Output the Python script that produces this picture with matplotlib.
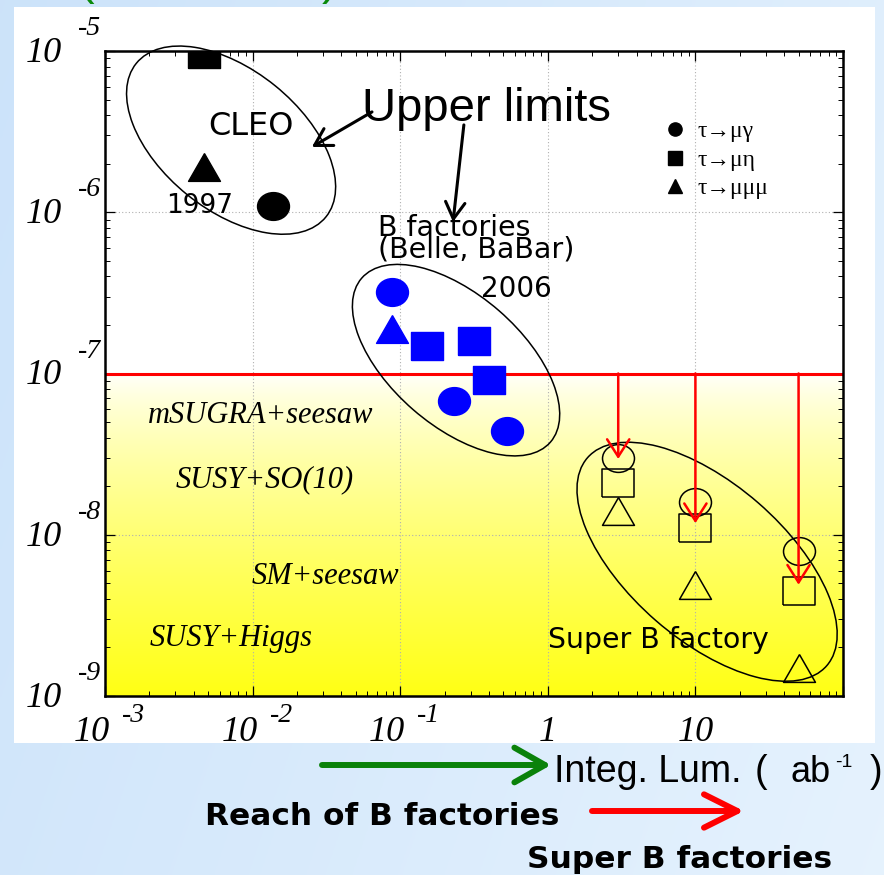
import numpy as np
import matplotlib
matplotlib.use('Agg')
import matplotlib.pyplot as plt
from matplotlib.patches import Ellipse, Rectangle
from matplotlib.path import Path
from matplotlib.transforms import Affine2D, ScaledTranslation
from matplotlib.lines import Line2D

# upper limits on LFV tau decays vs integrated luminosity (ab^-1)
cleo_mugamma_x = [0.0138]
cleo_mugamma_y = [1.1e-6]
cleo_mueta_x = [0.0047]
cleo_mueta_y = [9.6e-6]
cleo_mumumu_x = [0.0047]
cleo_mumumu_y = [1.9e-6]

bfac_mugamma_x = [0.088, 0.231, 0.533]
bfac_mugamma_y = [3.2e-7, 6.8e-8, 4.4e-8]
bfac_mueta_x = [0.153, 0.314, 0.40]
bfac_mueta_y = [1.49e-7, 1.59e-7, 9.1e-8]
bfac_mumumu_x = [0.088]
bfac_mumumu_y = [1.9e-7]

superb_x = [3, 10, 50]
superb_mugamma_y = [3.0e-8, 1.6e-8, 7.9e-9]
superb_mueta_y = [2.1e-8, 1.1e-8, 4.5e-9]
superb_mumumu_y = [1.4e-8, 4.9e-9, 1.5e-9]

reach_level = 1e-7
reach_tips = [2.95e-8, 1.18e-8, 4.9e-9]

legend_labels = ['τ→μγ', 'τ→μη', 'τ→μμμ']
model_labels = ['mSUGRA+seesaw', 'SUSY+SO(10)', 'SM+seesaw', 'SUSY+Higgs']
model_x = [0.00195, 0.00303, 0.0099, 0.00202]
model_y = [4.94e-8, 1.98e-8, 4.97e-9, 2.05e-9]

xtick_vals = [1e-3, 1e-2, 1e-1, 1, 10]
xtick_base = ['10', '10', '10', '1', '10']
xtick_exp = ['-3', '-2', '-1', '', '']
ytick_vals = [1e-9, 1e-8, 1e-7, 1e-6, 1e-5]
ytick_exp = ['-9', '-8', '-7', '-6', '-5']

W, H = 884, 875
fig = plt.figure(figsize=(W / 100, H / 100), dpi=100)

def fx(px):
    return px / W

def fy(py):
    return 1 - py / H

serif = ['Liberation Serif', 'DejaVu Serif']

# slide background + white panel
bg = fig.add_axes([0, 0, 1, 1], zorder=-10)
bg.set_axis_off()
gx, gy = np.meshgrid(np.linspace(0, 1, 300), np.linspace(0, 1, 300))
t = 0.75 * gx + 0.25 * gy
c0 = np.array([0.80, 0.89, 0.98])
c1 = np.array([0.90, 0.95, 0.995])
bg.imshow(c0 + (c1 - c0) * t[..., None], extent=[0, 1, 0, 1], aspect='auto', origin='upper')
bg.set_xlim(0, 1)
bg.set_ylim(0, 1)
bg.add_patch(Rectangle((fx(14), fy(743)), fx(875) - fx(14), fy(7) - fy(743),
                       facecolor='white', edgecolor='none'))

ax = fig.add_axes([fx(105), fy(696), fx(843) - fx(105), fy(51) - fy(696)])
ax.set_xscale('log')
ax.set_yscale('log')
ax.set_xlim(1e-3, 1e2)
ax.set_ylim(1e-9, 1e-5)
ax.set_autoscale_on(False)

# yellow band below the B-factory reach
frac = (np.log10(reach_level) + 9) / 4
tt = np.linspace(0, 1, 256)[:, None]
yellow = np.dstack([np.ones_like(tt), np.ones_like(tt), 1 - 0.92 * tt ** 0.75])
ax.imshow(yellow, extent=[0, 1, 0, frac], transform=ax.transAxes, aspect='auto',
          origin='upper', zorder=0, interpolation='bilinear')

ax.grid(True, which='major', ls=(0, (1, 2)), color='#b0b0b0', lw=0.8)
ax.tick_params(which='both', direction='in', top=True, right=True,
               labelbottom=False, labelleft=False)
ax.tick_params(which='major', length=7, width=0.9)
ax.tick_params(which='minor', length=3.5, width=0.7)
for s in ax.spines.values():
    s.set_linewidth(1.8)

# tick labels drawn as 10 with a raised exponent
for v, b, e in zip(xtick_vals, xtick_base, xtick_exp):
    if e:
        ax.annotate(b, xy=(v, 0), xycoords=('data', 'axes fraction'), xytext=(3.6, -32.4),
                    textcoords='offset points', ha='right', va='baseline', fontsize=26,
                    style='italic', family=serif, annotation_clip=False)
        ax.annotate(e, xy=(v, 0), xycoords=('data', 'axes fraction'), xytext=(12.2, -18.7),
                    textcoords='offset points', ha='left', va='baseline', fontsize=20,
                    style='italic', family=serif, annotation_clip=False)
    else:
        ax.annotate(b, xy=(v, 0), xycoords=('data', 'axes fraction'), xytext=(0, -32.4),
                    textcoords='offset points', ha='center', va='baseline', fontsize=26,
                    style='italic', family=serif, annotation_clip=False)
for v, e in zip(ytick_vals, ytick_exp):
    ax.annotate('10', xy=(0, v), xycoords=('axes fraction', 'data'), xytext=(-31, -7.9),
                textcoords='offset points', ha='right', va='baseline', fontsize=26,
                style='italic', family=serif, annotation_clip=False)
    ax.annotate(e, xy=(0, v), xycoords=('axes fraction', 'data'), xytext=(-19.8, 11.5),
                textcoords='offset points', ha='left', va='baseline', fontsize=20,
                style='italic', family=serif, annotation_clip=False)

ax.axhline(reach_level, color='red', lw=2.2, zorder=2)

# markers (slightly flattened like the original slide)
sq = 0.87
m_circle = Path.unit_circle().transformed(Affine2D().scale(1, sq))
m_square = [(-1, -sq), (1, -sq), (1, sq), (-1, sq), (-1, -sq)]
m_tri = [(0, sq), (-1, -sq), (1, -sq), (0, sq)]
ms = 23

ax.plot(cleo_mugamma_x, cleo_mugamma_y, ls='none', marker=m_circle, ms=ms, color='black')
ax.plot(cleo_mueta_x, cleo_mueta_y, ls='none', marker=m_square, ms=ms, color='black')
ax.plot(cleo_mumumu_x, cleo_mumumu_y, ls='none', marker=m_tri, ms=ms, color='black')

ax.plot(bfac_mugamma_x, bfac_mugamma_y, ls='none', marker=m_circle, ms=ms, color='#0000ff')
ax.plot(bfac_mueta_x, bfac_mueta_y, ls='none', marker=m_square, ms=ms, color='#0000ff')
ax.plot(bfac_mumumu_x, bfac_mumumu_y, ls='none', marker=m_tri, ms=ms, color='#0000ff')

open_kw = dict(ls='none', ms=ms, mfc='none', mec='black', mew=1.1)
ax.plot(superb_x, superb_mugamma_y, marker=m_circle, **open_kw)
ax.plot(superb_x, superb_mueta_y, marker=m_square, **open_kw)
ax.plot(superb_x, superb_mumumu_y, marker=m_tri, **open_kw)

red_arrow = dict(arrowstyle='->, head_length=1.25, head_width=0.8', lw=1.8, color='red',
                 shrinkA=0, shrinkB=0, mutation_scale=10)
for x, tip in zip(superb_x, reach_tips):
    ax.annotate('', xy=(x, tip), xytext=(x, reach_level), arrowprops=red_arrow, zorder=4)

# grouping ellipses: centre in data units, size in inches
for (cx, cy), w, h, ang in [((0.00715, 2.8e-6), 2.44, 1.40, -39),
                            ((0.239, 1.21e-7), 2.50, 1.31, -41),
                            ((12.0, 6.8e-9), 3.17, 1.56, -41)]:
    ax.add_patch(Ellipse((0, 0), w, h, angle=ang, fill=False, ec='black', lw=1.1,
                         transform=fig.dpi_scale_trans + ScaledTranslation(cx, cy, ax.transData),
                         clip_on=False, zorder=3))

ax.text(0.00499, 3.0e-6, 'CLEO', fontsize=23, family='DejaVu Sans', va='baseline')
ax.text(0.00259, 9.9e-7, '1997', fontsize=19, family='DejaVu Sans', va='baseline')
ax.text(0.0551, 3.68e-6, 'Upper limits', fontsize=34, family='Liberation Sans', va='baseline')
ax.text(0.0708, 7.13e-7, 'B factories', fontsize=20.5, family='DejaVu Sans', va='baseline')
ax.text(0.0708, 5.21e-7, '(Belle, BaBar)', fontsize=20.5, family='DejaVu Sans', va='baseline')
ax.text(0.352, 2.99e-7, '2006', fontsize=20, family='DejaVu Sans', va='baseline')
ax.text(1.0, 1.99e-9, 'Super B factory', fontsize=20.4, family='DejaVu Sans', va='baseline')
for lab, x, y in zip(model_labels, model_x, model_y):
    ax.text(x, y, lab, fontsize=22, style='italic', family=serif, va='baseline')

black_arrow = dict(arrowstyle='->, head_length=1.2, head_width=0.7', lw=2.2, color='black',
                   shrinkA=0, shrinkB=0, mutation_scale=10)
ax.annotate('', xy=(0.0252, 2.54e-6), xytext=(0.0644, 4.19e-6), arrowprops=black_arrow)
ax.annotate('', xy=(0.228, 8.7e-7), xytext=(0.270, 3.48e-6), arrowprops=black_arrow)

handles = [Line2D([], [], ls='none', marker=m, ms=9.5, color='black') for m in ['o', 's', '^']]
ax.legend(handles, legend_labels, loc='upper left', bbox_to_anchor=(0.757, 0.892),
          frameon=False, prop={'family': serif, 'size': 17}, handlelength=1.0,
          handletextpad=0.45, labelspacing=0.3, borderpad=0, borderaxespad=0)

# annotations below the panel
green_arrow = dict(arrowstyle='->, head_length=2.2, head_width=1.25', lw=4.3, color='#0a820a',
                   shrinkA=0, shrinkB=0, mutation_scale=10)
bg.annotate('', xy=(fx(551), fy(765)), xytext=(fx(322), fy(765)), xycoords='figure fraction',
            textcoords='figure fraction', arrowprops=green_arrow)
red_big = dict(arrowstyle='->, head_length=2.4, head_width=1.2', lw=4.3, color='red',
               shrinkA=0, shrinkB=0, mutation_scale=10)
bg.annotate('', xy=(fx(744), fy(811)), xytext=(fx(592), fy(811)), xycoords='figure fraction',
            textcoords='figure fraction', arrowprops=red_big)

fig.text(fx(554), fy(782), 'Integ. Lum.', fontsize=27, family='Liberation Sans', va='baseline')
fig.text(fx(755), fy(782), '(', fontsize=27, family='Liberation Sans', va='baseline')
fig.text(fx(790), fy(782), 'ab', fontsize=26, family='Liberation Sans', va='baseline')
fig.text(fx(835), fy(767), '-1', fontsize=14, family='Liberation Sans', va='baseline')
fig.text(fx(870), fy(782), ')', fontsize=27, family='Liberation Sans', va='baseline')
fig.text(fx(205), fy(825), 'Reach of B factories', fontsize=22.5, weight='bold',
         family='DejaVu Sans', va='baseline')
fig.text(fx(527), fy(868), 'Super B factories', fontsize=22.5, weight='bold',
         family='DejaVu Sans', va='baseline')

# green title brackets cut off at the top edge
fig.text(fx(78), fy(-6), '(', fontsize=34, color='#0a8a0a', family='Liberation Sans', va='baseline')
fig.text(fx(322), fy(-6), ')', fontsize=34, color='#0a8a0a', family='Liberation Sans', va='baseline')

fig.savefig('out.png', dpi=100)
